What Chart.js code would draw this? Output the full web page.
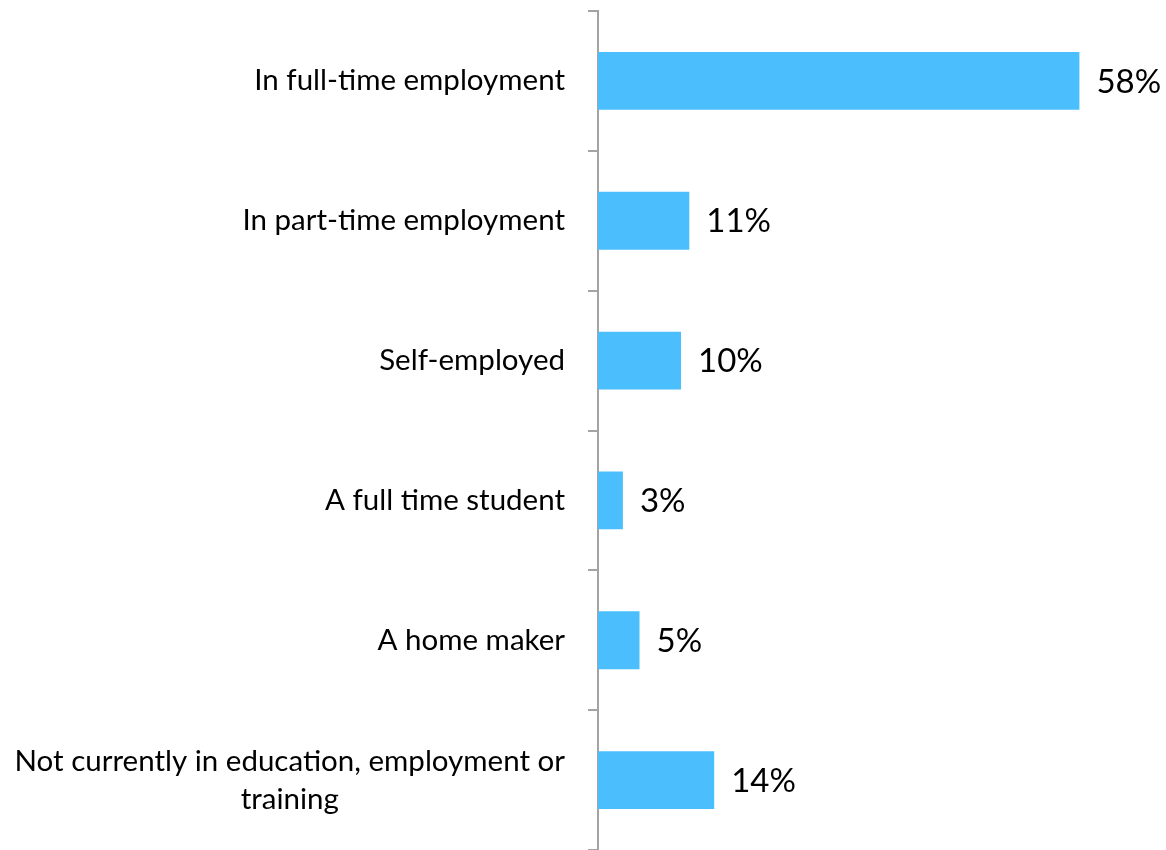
<!DOCTYPE html>
<html>
<head>
<meta charset="utf-8">
<script src="https://cdn.jsdelivr.net/npm/chart.js@4.4.1/dist/chart.umd.min.js"></script>
<style>
  html, body { margin: 0; padding: 0; background: #ffffff; }
  #wrap { width: 1166px; height: 850px; position: relative; }
</style>
</head>
<body>
<div id="wrap"><canvas id="c" width="1166" height="850"></canvas></div>
<script>
const categories = [
  'In full-time employment',
  'In part-time employment',
  'Self-employed',
  'A full time student',
  'A home maker',
  ['Not currently in education, employment or', 'training']
];
const values = [58, 11, 10, 3, 5, 14];
const valueLabels = ['58%', '11%', '10%', '3%', '5%', '14%'];

const CAT_FONT = '29.5px Lato';
const VAL_FONT = '33px Lato';

const labelPlugin = {
  id: 'customLabels',
  afterDraw(chart) {
    const ctx = chart.ctx;
    const y = chart.scales.y;
    const meta = chart.getDatasetMeta(0);
    ctx.save();
    ctx.fillStyle = '#000000';
    ctx.font = CAT_FONT;
    ctx.textBaseline = 'middle';
    const rightX = y.right - 33;
    categories.forEach((lab, i) => {
      const cy = y.getPixelForValue(i);
      if (Array.isArray(lab)) {
        const lh = 38;
        const widest = Math.max(...lab.map(s => ctx.measureText(s).width));
        const cx = rightX - widest / 2;
        ctx.textAlign = 'center';
        const startY = cy - (lab.length - 1) * lh / 2;
        lab.forEach((s, k) => ctx.fillText(s, cx, startY + k * lh));
      } else {
        ctx.textAlign = 'right';
        ctx.fillText(lab, rightX, cy);
      }
    });
    ctx.font = VAL_FONT;
    ctx.textAlign = 'left';
    meta.data.forEach((bar, i) => {
      ctx.fillText(valueLabels[i], bar.x + 17, bar.y + 1);
    });
    ctx.restore();
  }
};

new Chart(document.getElementById('c'), {
  type: 'bar',
  data: {
    labels: categories,
    datasets: [{
      data: values,
      backgroundColor: '#4bbffe',
      borderWidth: 0,
      categoryPercentage: 1,
      barPercentage: 0.414
    }]
  },
  options: {
    indexAxis: 'y',
    responsive: false,
    animation: false,
    events: [],
    layout: { padding: { top: 11, right: 70, left: 0, bottom: 0 } },
    plugins: { legend: { display: false }, tooltip: { enabled: false } },
    scales: {
      x: { min: 0, max: 60, display: false },
      y: {
        type: 'category',
        offset: true,
        grid: {
          display: true,
          offset: true,
          drawOnChartArea: false,
          drawTicks: true,
          tickLength: 10,
          color: '#a3a3a3',
          lineWidth: 2
        },
        border: { display: true, color: '#a3a3a3', width: 2 },
        ticks: { display: false },
        afterFit(scale) { scale.width = 598; }
      }
    }
  },
  plugins: [labelPlugin]
});
</script>
</body>
</html>
